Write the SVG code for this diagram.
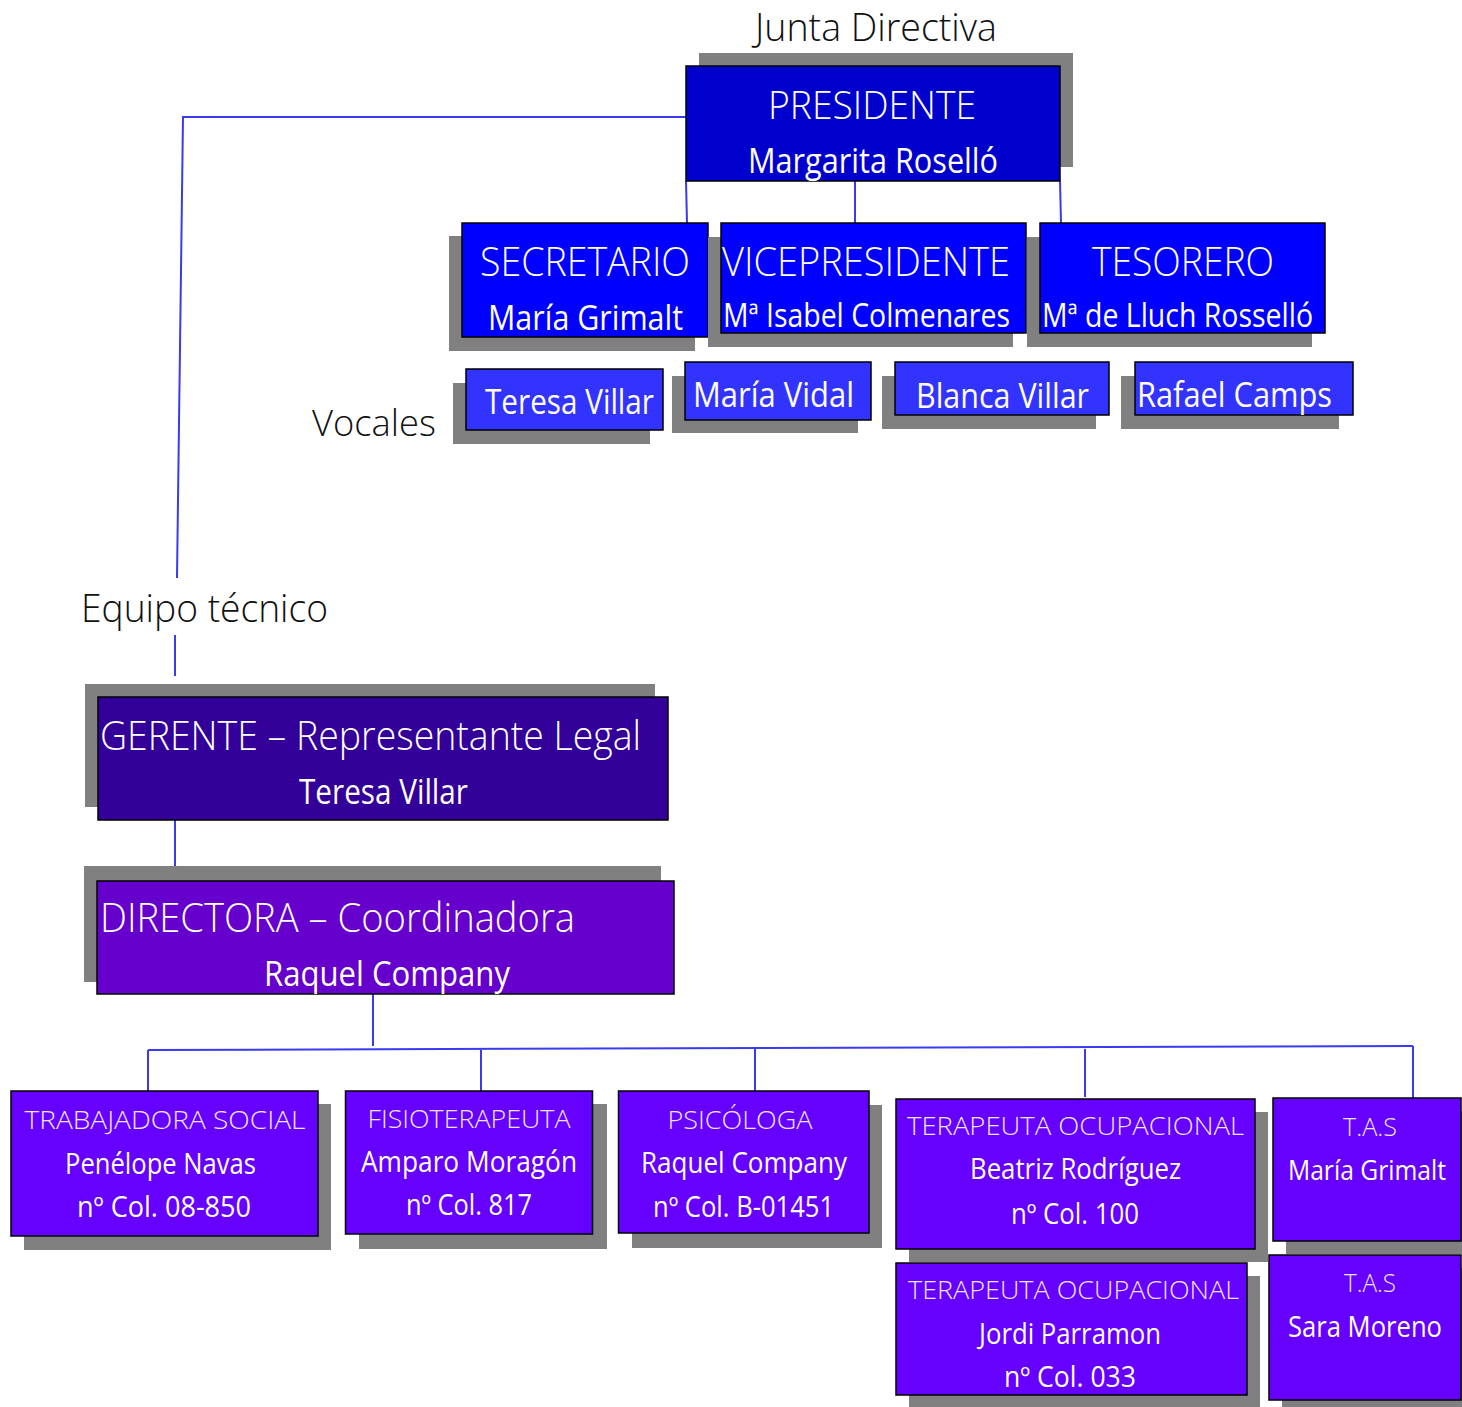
<svg xmlns="http://www.w3.org/2000/svg" width="1462" height="1407" viewBox="0 0 1462 1407">
<style>
text{font-family:"Open Sans","Noto Sans","Liberation Sans",sans-serif;}
.lt{font-weight:300;}
.rg{font-weight:400;}
.w{fill:#FFFFFF;}
.lav{fill:#EEE6FF;}
.blk{fill:#111111;}
.sh{fill:#808080;}
.bx{stroke:#000000;stroke-width:1.5;}
.c{stroke:#3A3AF0;stroke-width:2;fill:none;}
</style>
<rect width="1462" height="1407" fill="#FFFFFF"/>
<g id="labels">
<text class="lt blk" x="755" y="41" font-size="38" textLength="242" lengthAdjust="spacingAndGlyphs">Junta Directiva</text>
<text class="lt blk" x="312" y="436" font-size="37" textLength="124" lengthAdjust="spacingAndGlyphs">Vocales</text>
<text class="lt blk" x="81" y="622" font-size="38" textLength="247" lengthAdjust="spacingAndGlyphs">Equipo técnico</text>
</g>
<g id="connectors">
<polyline class="c" points="686,117 183,117 177,578"/>
<line class="c" x1="175" y1="635" x2="175" y2="676"/>
<line class="c" x1="686" y1="181" x2="687" y2="223"/>
<line class="c" x1="855" y1="181" x2="855" y2="223"/>
<line class="c" x1="1060" y1="181" x2="1061" y2="223"/>
<line class="c" x1="175" y1="820" x2="175" y2="866"/>
<line class="c" x1="373" y1="994" x2="373" y2="1046"/>
<line class="c" x1="148" y1="1050" x2="1413" y2="1046"/>
<line class="c" x1="148" y1="1050" x2="148" y2="1091"/>
<line class="c" x1="481" y1="1050" x2="481" y2="1091"/>
<line class="c" x1="755" y1="1049" x2="755" y2="1091"/>
<line class="c" x1="1085" y1="1049" x2="1085" y2="1097"/>
<line class="c" x1="1413" y1="1046" x2="1413" y2="1098"/>
</g>
<g id="presidente">
<rect class="sh" x="699" y="53" width="374" height="114"/>
<rect class="bx" x="686" y="66" width="374" height="115" fill="#0000CC"/>
<text class="lt w" x="872" y="119" font-size="39" text-anchor="middle" textLength="208" lengthAdjust="spacingAndGlyphs">PRESIDENTE</text>
<text class="rg w" x="873" y="173" font-size="34" text-anchor="middle" textLength="250" lengthAdjust="spacingAndGlyphs">Margarita Roselló</text>
</g>
<g id="secretario">
<rect class="sh" x="449" y="236" width="246" height="115"/>
<rect class="bx" x="462" y="223" width="246" height="114" fill="#0000FF"/>
<text class="lt w" x="585" y="276" font-size="40" text-anchor="middle" textLength="210" lengthAdjust="spacingAndGlyphs">SECRETARIO</text>
<text class="rg w" x="585.5" y="330" font-size="35" text-anchor="middle" textLength="195" lengthAdjust="spacingAndGlyphs">María Grimalt</text>
</g>
<g id="vicepresidente">
<rect class="sh" x="708" y="237" width="305" height="110"/>
<rect class="bx" x="721" y="223" width="305" height="110" fill="#0000FF"/>
<text class="lt w" x="722" y="276" font-size="40" textLength="288" lengthAdjust="spacingAndGlyphs">VICEPRESIDENTE</text>
<text class="rg w" x="723" y="327" font-size="33" textLength="287" lengthAdjust="spacingAndGlyphs">Mª Isabel Colmenares</text>
</g>
<g id="tesorero">
<rect class="sh" x="1027" y="237" width="285" height="110"/>
<rect class="bx" x="1040" y="223" width="285" height="110" fill="#0000FF"/>
<text class="lt w" x="1183" y="276" font-size="40" text-anchor="middle" textLength="182" lengthAdjust="spacingAndGlyphs">TESORERO</text>
<text class="rg w" x="1042" y="327" font-size="33" textLength="271" lengthAdjust="spacingAndGlyphs">Mª de Lluch Rosselló</text>
</g>
<g id="vocal-teresa">
<rect class="sh" x="453" y="383" width="197" height="61"/>
<rect class="bx" x="466" y="369" width="197" height="61" fill="#3333FF"/>
<text class="rg w" x="485" y="414" font-size="34" textLength="169" lengthAdjust="spacingAndGlyphs">Teresa Villar</text>
</g>
<g id="vocal-maria">
<rect class="sh" x="672" y="376" width="186" height="57"/>
<rect class="bx" x="685" y="362" width="186" height="58" fill="#3333FF"/>
<text class="rg w" x="693" y="407" font-size="34" textLength="161" lengthAdjust="spacingAndGlyphs">María Vidal</text>
</g>
<g id="vocal-blanca">
<rect class="sh" x="882" y="376" width="214" height="53"/>
<rect class="bx" x="895" y="362" width="214" height="53" fill="#3333FF"/>
<text class="rg w" x="916" y="408" font-size="34" textLength="173" lengthAdjust="spacingAndGlyphs">Blanca Villar</text>
</g>
<g id="vocal-rafael">
<rect class="sh" x="1121" y="376" width="218" height="53"/>
<rect class="bx" x="1135" y="362" width="218" height="53" fill="#3333FF"/>
<text class="rg w" x="1137" y="407" font-size="34" textLength="195" lengthAdjust="spacingAndGlyphs">Rafael Camps</text>
</g>
<g id="gerente">
<rect class="sh" x="85" y="684" width="570" height="123"/>
<rect class="bx" x="98" y="697" width="570" height="123" fill="#330099"/>
<text class="lt w" x="100" y="750" font-size="40" textLength="541" lengthAdjust="spacingAndGlyphs">GERENTE – Representante Legal</text>
<text class="rg w" x="299" y="804" font-size="34" textLength="169" lengthAdjust="spacingAndGlyphs">Teresa Villar</text>
</g>
<g id="directora">
<rect class="sh" x="84" y="866" width="577" height="116"/>
<rect class="bx" x="97" y="881" width="577" height="113" fill="#6600CC"/>
<text class="lt w" x="100" y="932" font-size="40" textLength="475" lengthAdjust="spacingAndGlyphs">DIRECTORA – Coordinadora</text>
<text class="rg w" x="264" y="986" font-size="34" textLength="246" lengthAdjust="spacingAndGlyphs">Raquel Company</text>
</g>
<g id="trabajadora-social">
<rect class="sh" x="24" y="1104" width="307" height="146"/>
<rect class="bx" x="11" y="1091" width="307" height="145" fill="#6600FF"/>
<text class="lt lav" x="165" y="1129" font-size="26" text-anchor="middle" textLength="281" lengthAdjust="spacingAndGlyphs">TRABAJADORA SOCIAL</text>
<text class="rg w" x="160.5" y="1174" font-size="29" text-anchor="middle" textLength="191" lengthAdjust="spacingAndGlyphs">Penélope Navas</text>
<text class="rg w" x="164" y="1217" font-size="29" text-anchor="middle" textLength="174" lengthAdjust="spacingAndGlyphs">nº Col. 08-850</text>
</g>
<g id="fisioterapeuta">
<rect class="sh" x="359" y="1104" width="248" height="145"/>
<rect class="bx" x="345.5" y="1091" width="247" height="143" fill="#6600FF"/>
<text class="lt lav" x="469" y="1128" font-size="26" text-anchor="middle" textLength="203" lengthAdjust="spacingAndGlyphs">FISIOTERAPEUTA</text>
<text class="rg w" x="469" y="1172" font-size="29" text-anchor="middle" textLength="216" lengthAdjust="spacingAndGlyphs">Amparo Moragón</text>
<text class="rg w" x="469" y="1215" font-size="29" text-anchor="middle" textLength="126" lengthAdjust="spacingAndGlyphs">nº Col. 817</text>
</g>
<g id="psicologa">
<rect class="sh" x="632" y="1105" width="250" height="143"/>
<rect class="bx" x="618.5" y="1091" width="250.5" height="142" fill="#6600FF"/>
<text class="lt lav" x="740" y="1129" font-size="26" text-anchor="middle" textLength="145" lengthAdjust="spacingAndGlyphs">PSICÓLOGA</text>
<text class="rg w" x="744" y="1173" font-size="29" text-anchor="middle" textLength="206" lengthAdjust="spacingAndGlyphs">Raquel Company</text>
<text class="rg w" x="743.5" y="1217" font-size="29" text-anchor="middle" textLength="181" lengthAdjust="spacingAndGlyphs">nº Col. B-01451</text>
</g>
<g id="terapeuta-1">
<rect class="sh" x="909" y="1112" width="359" height="150"/>
<rect class="bx" x="896" y="1099" width="359" height="150" fill="#6600FF"/>
<text class="lt lav" x="1075.5" y="1135" font-size="26" text-anchor="middle" textLength="337" lengthAdjust="spacingAndGlyphs">TERAPEUTA OCUPACIONAL</text>
<text class="rg w" x="1075.5" y="1179" font-size="29" text-anchor="middle" textLength="211" lengthAdjust="spacingAndGlyphs">Beatriz Rodríguez</text>
<text class="rg w" x="1075" y="1224" font-size="29" text-anchor="middle" textLength="128" lengthAdjust="spacingAndGlyphs">nº Col. 100</text>
</g>
<g id="tas-maria">
<rect class="sh" x="1286" y="1111" width="176" height="143"/>
<rect class="bx" x="1273" y="1098" width="188" height="143" fill="#6600FF"/>
<text class="lt lav" x="1370" y="1136" font-size="26" text-anchor="middle" textLength="54" lengthAdjust="spacingAndGlyphs">T.A.S</text>
<text class="rg w" x="1367" y="1180" font-size="28" text-anchor="middle" textLength="158" lengthAdjust="spacingAndGlyphs">María Grimalt</text>
</g>
<g id="terapeuta-2">
<rect class="sh" x="909" y="1276" width="351" height="131"/>
<rect class="bx" x="896" y="1263" width="351" height="132" fill="#6600FF"/>
<text class="lt lav" x="1073.5" y="1299" font-size="26" text-anchor="middle" textLength="331" lengthAdjust="spacingAndGlyphs">TERAPEUTA OCUPACIONAL</text>
<text class="rg w" x="1070" y="1344" font-size="29" text-anchor="middle" textLength="182" lengthAdjust="spacingAndGlyphs">Jordi Parramon</text>
<text class="rg w" x="1070" y="1387" font-size="29" text-anchor="middle" textLength="132" lengthAdjust="spacingAndGlyphs">nº Col. 033</text>
</g>
<g id="tas-sara">
<rect class="sh" x="1282" y="1268" width="180" height="139"/>
<rect class="bx" x="1269" y="1255" width="192" height="145" fill="#6600FF"/>
<text class="lt lav" x="1370" y="1292" font-size="26" text-anchor="middle" textLength="52" lengthAdjust="spacingAndGlyphs">T.A.S</text>
<text class="rg w" x="1365" y="1337" font-size="29" text-anchor="middle" textLength="154" lengthAdjust="spacingAndGlyphs">Sara Moreno</text>
</g>
</svg>
